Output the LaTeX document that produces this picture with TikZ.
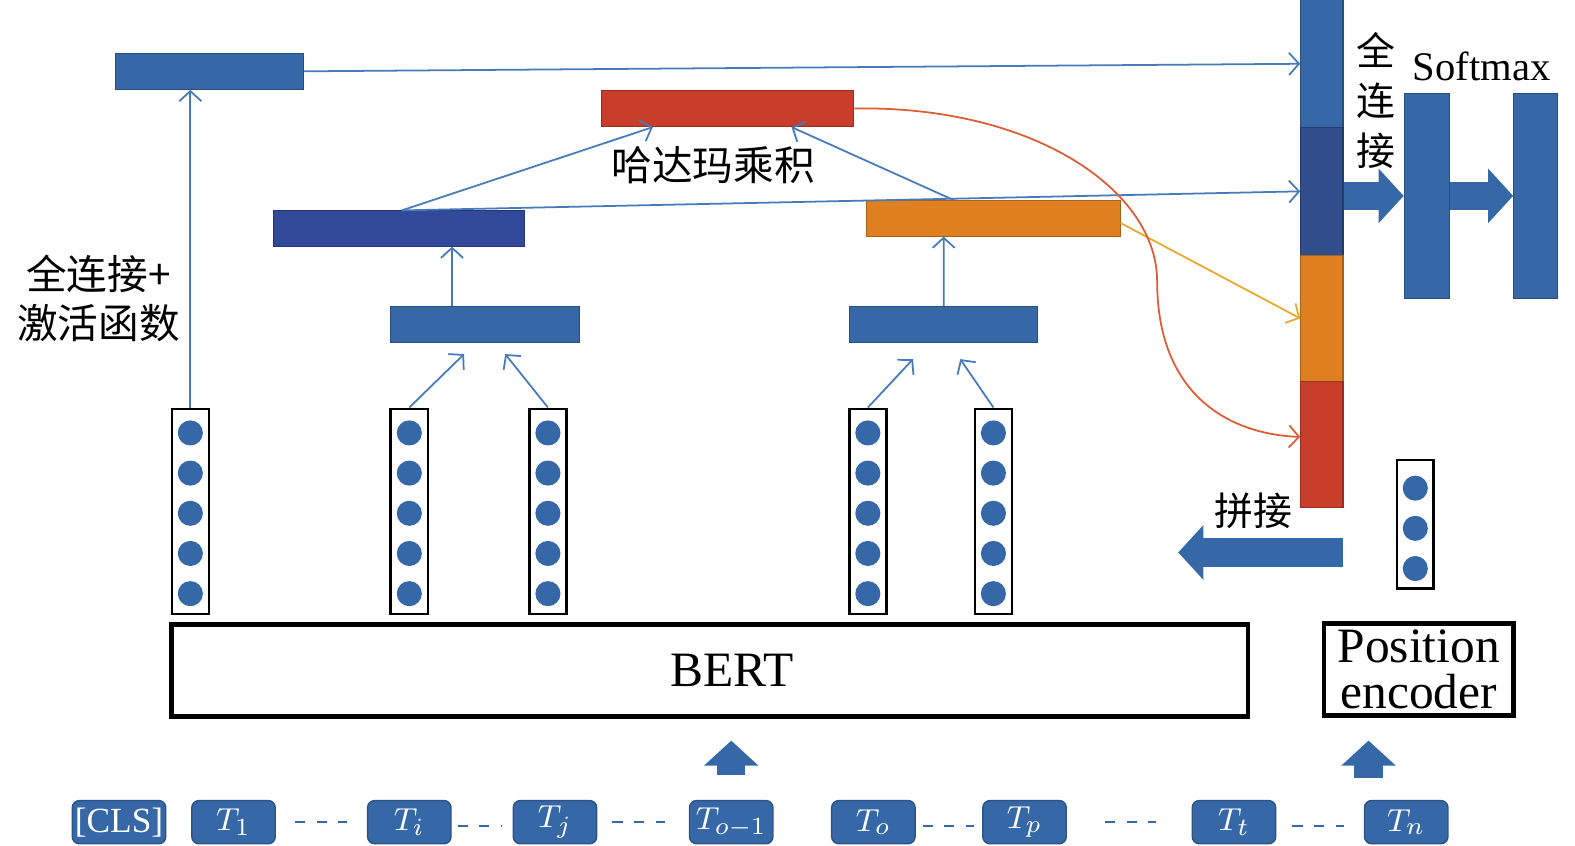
\documentclass[tikz,border=0pt]{standalone}
\usepackage{fontspec}
\setmainfont{Liberation Serif}
\newfontfamily\cjk{Noto Sans CJK SC}
\usepackage{tikz}
\usetikzlibrary{arrows.meta}

\definecolor{blueA}{RGB}{54,104,168}
\definecolor{navyA}{RGB}{50,72,152}
\definecolor{navyB}{RGB}{48,78,140}
\definecolor{redA}{RGB}{200,62,42}
\definecolor{orangeA}{RGB}{222,128,32}
\definecolor{linkA}{RGB}{70,122,186}
\definecolor{curveA}{RGB}{222,92,52}
\definecolor{goldA}{RGB}{234,168,42}

\begin{document}
\begin{tikzpicture}[x=0.01cm, y=-0.01cm,
    bar/.style={rectangle, inner sep=0pt, minimum height=0.36cm, fill=#1, draw=#1!75!black, line width=0.3pt},
    vecbox/.style={rectangle, draw=black, line width=0.7pt, inner sep=0pt, minimum width=0.37cm, minimum height=2.04cm},
    dotfill/.style={fill=blueA},
    token/.style={rectangle, rounded corners=2pt, fill=blueA, draw=blueA!80!black, text=white, inner sep=0pt,
      minimum width=0.83cm, minimum height=0.43cm, font=\fontsize{9.5}{10}\selectfont},
    frame/.style={rectangle, draw=black, line width=1.3pt, inner sep=0pt, minimum height=0.91cm},
    link/.style={draw=linkA, line width=0.5pt, -{Straight Barb[length=1mm, width=2.2mm]}},
    fat/.style={draw=blueA, line width=0.28cm, -{Triangle[length=0.25cm, width=0.53cm]}},
    ellip/.style={draw=blueA, line width=0.6pt, dash pattern=on 1mm off 1.15mm},
    zh/.style={font=\cjk\fontsize{11.5}{14}\selectfont, inner sep=0pt, align=center}]
  \useasboundingbox (0,0) rectangle (1568,842);

  %% *** Tokens ***
  \node[token, minimum width=0.93cm, font=\fontsize{10}{10}\selectfont] (tokcls) at (118.5,818.5) {[CLS]};
  \foreach \x/\nm/\txt in {232.5/tok1/$T_1$, 407.5/toki/$T_i$, 552.5/tokj/$T_j$, 728/tokm/$T_{o-1}$,
                            869.5/toko/$T_o$, 1020/tokp/$T_p$, 1228.5/tokt/$T_t$, 1400/tokn/$T_n$}
    \node[token] (\nm) at (\x,818.5) {\txt};
  \draw[ellip, shorten <=1.9mm, shorten >=2mm] (tok1.east) -- (toki.west);
  \draw[ellip, shorten <=0.6mm, shorten >=1.1mm] ([yshift=-0.04cm]toki.east) -- ([yshift=-0.04cm]tokj.west);
  \draw[ellip, shorten <=1.5mm, shorten >=2.4mm] (tokj.east) -- (tokm.west);
  \draw[ellip, shorten <=0.7mm, shorten >=0.8mm] ([yshift=-0.04cm]toko.east) -- ([yshift=-0.04cm]tokp.west);
  \draw[ellip, shorten <=3.8mm, shorten >=3.5mm] (tokp.east) -- (tokt.west);
  \draw[ellip, shorten <=1.6mm, shorten >=2mm] ([yshift=-0.04cm]tokt.east) -- ([yshift=-0.04cm]tokn.west);

  %% *** Encoders ***
  \node[frame, minimum width=10.71cm,
    label={[font=\fontsize{14}{14}\selectfont, xshift=0.22cm]center:BERT}] (bert) at (706.5,667.5) {};
  \node[frame, minimum width=1.89cm, align=center, font=\fontsize{14}{13.2}\selectfont] (posenc) at (1412.5,666.5) {Position\\encoder};
  \draw[fat, shorten <=0.25cm, shorten >=0.22cm] (tokm.north) -- (tokm.north |- bert.south);
  \draw[fat] ([xshift=-0.5cm, yshift=-0.6cm]posenc.south) -- ([xshift=-0.5cm, yshift=-0.23cm]posenc.south);

  %% *** Token vectors ***
  \foreach \x [count=\n] in {189.5,407.5,545.5,864,989} {
    \node[vecbox] (col\n) at (\x,509) {};
    \foreach \k in {0,...,4}
      \fill[dotfill] (\x,431+40*\k) circle (12.5);
  }
  \node[vecbox, minimum width=0.36cm, minimum height=1.28cm] (poscol) at (1409,522) {};
  \foreach \k in {0,1,2}
    \fill[dotfill] (1409,486+40*\k) circle (12.5);

  %% *** Span vectors ***
  \node[bar=blueA, minimum width=1.87cm] (clsvec) at (208.5,71) {};
  \node[bar=blueA, minimum width=1.88cm] (poolij) at (483,323) {};
  \node[bar=blueA, minimum width=1.87cm] (poolop) at (939.5,323) {};
  \node[bar=navyA, minimum width=2.5cm, minimum height=0.35cm] (spanij) at (397,227.5) {};
  \node[bar=orangeA, minimum width=2.52cm, minimum height=0.35cm] (spanop) at (989,217.5) {};
  \node[bar=redA, minimum width=2.51cm] (hadvec) at (724.5,108) {};
  \node[zh] (hadtxt) at (710,164) {哈达玛乘积};
  \node[zh] (fcact) at (98,297) {全连接+\\激活函数};

  %% *** Concatenation ***
  \node[bar=blueA, minimum width=0.42cm, minimum height=1.27cm] (seg1) at (1316,63.5) {};
  \node[bar=navyB, minimum width=0.42cm, minimum height=1.27cm] (seg2) at (1316,190.5) {};
  \node[bar=orangeA, minimum width=0.42cm, minimum height=1.26cm] (seg3) at (1316,317) {};
  \node[bar=redA, minimum width=0.42cm, minimum height=1.25cm] (seg4) at (1316,442.5) {};
  \node[bar=blueA, minimum width=0.45cm, minimum height=2.04cm] (fc1) at (1420.5,195) {};
  \node[bar=blueA, minimum width=0.44cm, minimum height=2.04cm] (fc2) at (1529,195) {};
  \node[zh, font=\cjk\fontsize{11}{14.2}\selectfont] (fctxt) at (1370,100) {全\\连\\接};
  \node[font=\fontsize{11.5}{12}\selectfont, inner sep=0pt] (softmax) at (1475,66) {Softmax};
  \node[zh, font=\cjk\fontsize{11}{14}\selectfont] (jointxt) at (1248,509) {拼接};
  \coordinate (joinR) at (1337,550);
  \coordinate (joinL) at (1173,550);
  \draw[fat] (seg2.east |- fc1.west) -- (fc1.west);
  \draw[fat] (fc1.east) -- (fc2.west);
  \draw[fat] (joinR) -- (joinL);

  %% *** Connectors ***
  \draw[link] (col1.north) -- (col1.north |- clsvec.south);
  \draw[link] (col2.north) -- ([xshift=-0.21cm, yshift=-0.11cm]poolij.south);
  \draw[link] (col3.north) -- ([xshift=0.2cm, yshift=-0.11cm]poolij.south);
  \draw[link] (col4.north) -- ([xshift=-0.305cm, yshift=-0.16cm]poolop.south);
  \draw[link] (col5.north) -- ([xshift=0.165cm, yshift=-0.16cm]poolop.south);
  \draw[link] ([xshift=-0.33cm]poolij.north) -- ([xshift=0.53cm]spanij.south);
  \draw[link] (poolop.north) -- ([xshift=-0.495cm]spanop.south);
  \draw[link] ([xshift=0.03cm]spanij.north) -- ([xshift=-0.745cm]hadvec.south);
  \draw[link] ([xshift=-0.39cm]spanop.north) -- ([xshift=0.635cm]hadvec.south);
  \draw[link] (clsvec.east) -- (seg1.west);
  \draw[link] ([xshift=0.03cm]spanij.north) -- (seg2.west);
  \draw[link, draw=goldA] ([yshift=-0.045cm]spanop.east) -- (seg3.west);
  \draw[link, draw=curveA] (hadvec.east) .. controls (1030,105) and (1152,190) .. (1152,280)
    .. controls (1152,390) and (1220,432) .. ([yshift=0.075cm]seg4.west);
\end{tikzpicture}
\end{document}
